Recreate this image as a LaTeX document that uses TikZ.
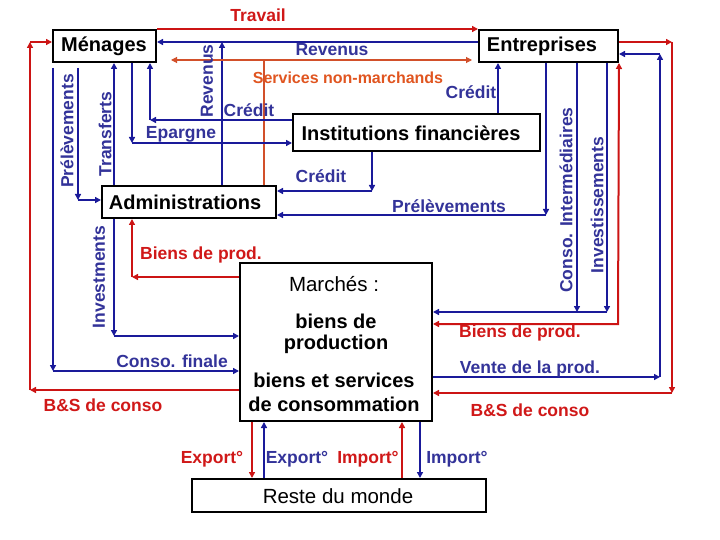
\documentclass[tikz,border=0pt]{standalone}
\usepackage{fontspec}
\setmainfont{Liberation Sans}
\usetikzlibrary{arrows.meta}
\definecolor{lb}{HTML}{1A1A9A}
\definecolor{tb}{HTML}{333399}
\definecolor{lr}{HTML}{CC1414}
\definecolor{tr}{HTML}{D01818}
\definecolor{lo}{HTML}{D2502A}
\definecolor{to}{HTML}{E05520}
\tikzset{
  box/.style={draw=black, line width=2pt, fill=white, inner sep=0pt},
  btxt/.style={font=\bfseries\fontsize{20}{24}\selectfont, inner sep=0pt},
  rtxt/.style={font=\fontsize{20.5}{24}\selectfont, inner sep=0pt},
  lab/.style={font=\bfseries\fontsize{17.5}{20}\selectfont, inner sep=0pt},
  bl/.style={draw=lb, line width=2pt, -{Triangle[length=6pt,width=6pt]}},
  rd/.style={draw=lr, line width=2pt, -{Triangle[length=6pt,width=6pt]}},
  orl/.style={draw=lo, line width=1.1pt},
}
\begin{document}
\begin{tikzpicture}[x=1pt,y=-1pt]
\useasboundingbox (0,0) rectangle (720,540);
% boxes (geometry)
\node[box, minimum width=103pt, minimum height=32pt] (men) at (104.5,46) {};
\node[box, minimum width=139pt, minimum height=32pt] (ent) at (548.5,46) {};
\node[box, minimum width=247pt, minimum height=37pt] (ins) at (416.5,132.5) {};
\node[box, minimum width=174pt, minimum height=32pt] (adm) at (189,202) {};
\node[box, minimum width=192pt, minimum height=158pt] (mar) at (336,342) {};
\node[box, minimum width=294pt, minimum height=33pt] (rdm) at (339,495.5) {};
% helper coordinates
\coordinate (rv) at (0,42);
\coordinate (revA) at (222,42);
\coordinate (sv) at (264,60);
\coordinate (cr1) at (150,120);
\coordinate (ep) at (132,143);
\coordinate (trf) at (114,0);
\coordinate (pl) at (78,200);
\coordinate (cf) at (53,371);
\coordinate (iv) at (114,336);
\coordinate (bp) at (132,277);
\coordinate (bs1) at (30,390);
\coordinate (bs2) at (30,42);
\coordinate (ex1) at (252,0);
\coordinate (ex2) at (264,0);
\coordinate (im1) at (402,0);
\coordinate (im2) at (420,0);
\coordinate (bsr1) at (672,42);
\coordinate (bsr2) at (672,393);
\coordinate (v1) at (660,377);
\coordinate (v2) at (660,54);
\coordinate (bpr) at (618,324);
\coordinate (ci) at (577,312);
\coordinate (inv) at (607,312);
\coordinate (pr) at (546,215);
\coordinate (c2) at (372,191);
\coordinate (c3) at (498,0);
% connectors
\draw[rd] (men.north east) -- (ent.north west);
\draw[bl] (ent.west |- rv) -- (men.east |- rv);
\draw[bl] (adm.north -| revA) -- (revA);
\draw[orl] (adm.north -| sv) -- (sv);
\draw[orl, -{Triangle[length=6pt,width=6pt]}, shorten >=14pt] (sv) -- (men.east |- sv);
\draw[orl, -{Triangle[length=6pt,width=6pt]}, shorten >=6pt] (sv) -- (ent.west |- sv);
\draw[bl] (ins.west |- cr1) -- (cr1);
\draw[bl] (cr1) -- (men.south -| cr1);
\draw[bl] (men.south -| ep) -- (ep);
\draw[bl] (ep) -- (ins.west |- ep);
\draw[bl] (adm.north -| trf) -- (men.south -| trf);
\draw[bl, shorten <=5pt] (men.south -| pl) -- (pl);
\draw[bl] (pl) -- (adm.west |- pl);
\draw[bl, shorten <=5pt] (men.south -| cf) -- (cf);
\draw[bl] (cf) -- (mar.west |- cf);
\draw[bl] (adm.south -| iv) -- (iv);
\draw[bl] (iv) -- (mar.west |- iv);
\draw[rd] (mar.west |- bp) -- (bp);
\draw[rd] (bp) -- (adm.south -| bp);
\draw[rd] (mar.west |- bs1) -- (bs1);
\draw[rd] (bs1) -- (bs2);
\draw[rd] (bs2) -- (men.west |- bs2);
\draw[rd] (mar.south -| ex1) -- (rdm.north -| ex1);
\draw[bl] (rdm.north -| ex2) -- (mar.south -| ex2);
\draw[rd] (rdm.north -| im1) -- (mar.south -| im1);
\draw[bl] (mar.south -| im2) -- (rdm.north -| im2);
\draw[rd] (ent.east |- bsr1) -- (bsr1);
\draw[rd] (bsr1) -- (bsr2);
\draw[rd] (bsr2) -- (mar.east |- bsr2);
\draw[bl] (mar.east |- v1) -- (v1);
\draw[bl] (v1) -- (v2);
\draw[bl] (v2) -- (ent.east |- v2);
\draw[rd, {Triangle[length=6pt,width=6pt]}-{Triangle[length=6pt,width=6pt]}] (ent.south east) -- (bpr) -- (mar.east |- bpr);
\draw[bl] (ent.south -| ci) -- (ci);
\draw[bl] (ent.south -| inv) -- (inv);
\draw[bl] (inv) -- (mar.east |- inv);
\draw[bl] (ent.south -| pr) -- (pr);
\draw[bl] (pr) -- (adm.east |- pr);
\draw[bl] (ins.south -| c2) -- (c2);
\draw[bl] (c2) -- (adm.east |- c2);
\draw[bl] (ins.north -| c3) -- (ent.south -| c3);
% boxes redrawn on top
\node[box, minimum width=103pt, minimum height=32pt] (menb) at (men) {};
\node[box, minimum width=139pt, minimum height=32pt] (entb) at (ent) {};
\node[box, minimum width=247pt, minimum height=37pt] (insb) at (ins) {};
\node[box, minimum width=174pt, minimum height=32pt] (admb) at (adm) {};
\node[box, minimum width=192pt, minimum height=158pt] (marb) at (mar) {};
\node[box, minimum width=294pt, minimum height=33pt] (rdmb) at (rdm) {};
% box texts
\node[btxt] (tmen) at (104,46) {Ménages};
\node[btxt] (tent) at (542,46) {Entreprises};
\node[btxt] (tins) at (411,133) {Institutions financières};
\node[btxt] (tadm) at (185,202) {Administrations};
\node[rtxt] (tmar) at (334,284) {Marchés :};
\node[btxt] (tmar2) at (336,321) {biens de};
\node[btxt] (tmar3) at (336,344) {production};
\node[btxt] (tmar4) at (334,380) {biens et services};
\node[btxt] (tmar5) at (334,404) {de consommation};
\node[rtxt] (trdm) at (338,496) {Reste du monde};
% labels
\node[lab, text=tr] (l1) at (258,15) {Travail};
\node[lab, text=tb] (l2) at (332,50) {Revenus};
\node[lab, text=to, font=\bfseries\fontsize{16}{18}\selectfont] (l3) at (348,78) {Services non-marchands};
\node[lab, text=tb] (l4) at (471,92) {Crédit};
\node[lab, text=tb, rotate=90] (l5) at (207,81) {Revenus};
\node[lab, text=tb] (l6) at (249,110) {Crédit};
\node[lab, text=tb] (l7) at (181,134) {Epargne};
\node[lab, text=tb, rotate=90] (l8) at (105,134) {Transferts};
\node[lab, text=tb, rotate=90] (l9) at (67,131) {Prélèvements};
\node[lab, text=tb] (l10) at (321,176) {Crédit};
\node[lab, text=tb] (l11) at (449,206) {Prélèvements};
\node[lab, text=tr] (l12) at (201,255) {Biens de prod.};
\node[lab, text=tb, rotate=90] (l13) at (99,277) {Investments};
\node[lab, text=tb] (l14) at (172,361) {Conso. finale};
\node[lab, text=tr] (l15) at (103,405) {B\&S de conso};
\node[lab, text=tr] (l16) at (212,459) {Export°};
\node[lab, text=tb] (l17) at (297,459) {Export°};
\node[lab, text=tr] (l18) at (368,459) {Import°};
\node[lab, text=tb] (l19) at (457,459) {Import°};
\node[lab, text=tr] (l20) at (520,333) {Biens de prod.};
\node[lab, text=tb] (l21) at (530,369) {Vente de la prod.};
\node[lab, text=tr] (l22) at (530,410) {B\&S de conso};
\node[lab, text=tb, rotate=90] (l23) at (566,200) {Conso. Intermédiaires};
\node[lab, text=tb, rotate=90] (l24) at (597,205) {Investissements};
\end{tikzpicture}
\end{document}
